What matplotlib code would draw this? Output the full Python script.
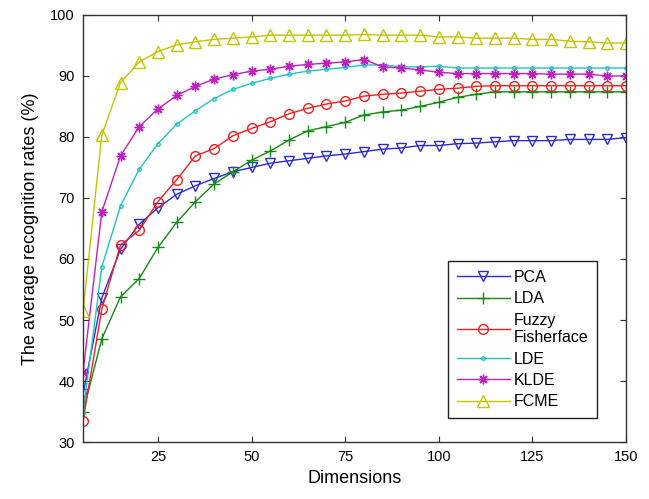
import matplotlib
matplotlib.use('Agg')
import matplotlib.pyplot as plt
import numpy as np

plt.rcParams['font.family'] = ['Liberation Sans', 'DejaVu Sans']

# DATA
dims = list(range(5, 155, 5))

pca = [37.9, 53.6, 61.6, 65.7, 68.4, 70.6, 72.0, 73.2, 74.3, 75.0,
       75.7, 76.1, 76.5, 76.9, 77.2, 77.6, 78.0, 78.2, 78.6, 78.6,
       78.9, 79.0, 79.2, 79.4, 79.4, 79.4, 79.6, 79.6, 79.6, 79.9]
lda = [35.0, 46.9, 53.8, 56.8, 61.9, 66.0, 69.4, 72.3, 74.3, 76.2,
       77.7, 79.5, 81.0, 81.7, 82.4, 83.6, 84.1, 84.4, 85.0, 85.7,
       86.5, 87.0, 87.4, 87.4, 87.4, 87.4, 87.4, 87.4, 87.4, 87.4]
fuzzy = [33.5, 51.8, 62.3, 64.7, 69.4, 73.0, 76.9, 78.1, 80.2, 81.4,
         82.5, 83.8, 84.7, 85.4, 85.9, 86.7, 87.0, 87.2, 87.5, 87.8,
         88.0, 88.3, 88.4, 88.4, 88.4, 88.4, 88.4, 88.4, 88.4, 88.4]
lde = [34.8, 58.7, 68.7, 74.7, 78.9, 82.1, 84.3, 86.3, 87.8, 88.8,
       89.6, 90.3, 90.8, 91.1, 91.4, 91.8, 91.8, 91.5, 91.5, 91.6,
       91.3, 91.3, 91.3, 91.3, 91.3, 91.3, 91.3, 91.3, 91.3, 91.3]
klde = [41.5, 67.7, 76.9, 81.7, 84.6, 86.8, 88.3, 89.5, 90.2, 90.8,
        91.1, 91.6, 91.9, 92.1, 92.3, 92.7, 91.5, 91.3, 91.0, 90.6,
        90.4, 90.4, 90.4, 90.4, 90.4, 90.3, 90.3, 90.3, 90.0, 90.0]
fcme = [51.5, 80.3, 88.9, 92.3, 94.0, 95.1, 95.6, 96.0, 96.2, 96.4,
        96.7, 96.7, 96.7, 96.7, 96.7, 96.8, 96.7, 96.7, 96.7, 96.4,
        96.4, 96.2, 96.2, 96.2, 96.0, 96.0, 95.7, 95.6, 95.4, 95.4]

# matlab-like asterisk (8 spokes)
asterisk = (8, 2, 0)

series = [
    ('PCA', pca, '#2b2bd0', 'v', 7),
    ('LDA', lda, '#138a13', '+', 8),
    ('Fuzzy\nFisherface', fuzzy, '#f02020', 'o', 7),
    ('LDE', lde, '#1fc4c4', '.', 5),
    ('KLDE', klde, '#c020c0', asterisk, 7),
    ('FCME', fcme, '#c4c400', '^', 8.5),
]

fig = plt.figure(figsize=(6.49, 4.99), dpi=100)
ax = fig.add_axes([0.128, 0.1142, 0.8366, 0.8558])

for name, vals, col, mk, ms in series:
    ax.plot(dims, vals, color=col, marker=mk, markersize=ms, linewidth=1.0,
            markerfacecolor='none', markeredgecolor=col, markeredgewidth=1.0,
            label=name)

ax.set_xlim(5, 150)
ax.set_ylim(30, 100)
ax.set_xticks([25, 50, 75, 100, 125, 150])
ax.set_yticks(np.arange(30, 101, 10))
ax.tick_params(direction='in', top=True, right=True, labelsize=10.5,
               length=4, width=0.8, color='#333333', pad=6)
for s in ax.spines.values():
    s.set_color('#333333')
    s.set_linewidth(1.0)

ax.set_xlabel('Dimensions', fontsize=13, labelpad=4)
ax.set_ylabel('The average recognition rates (%)', fontsize=13, labelpad=8)

leg = ax.legend(loc='lower right', bbox_to_anchor=(0.9466, 0.056),
                borderaxespad=0, fontsize=11.5, handlelength=3.3,
                fancybox=False, framealpha=1, edgecolor='#222222',
                labelspacing=0.4, handletextpad=0.25, borderpad=0.55)
leg.get_frame().set_linewidth(1.0)

fig.savefig('out.png', dpi=100)
